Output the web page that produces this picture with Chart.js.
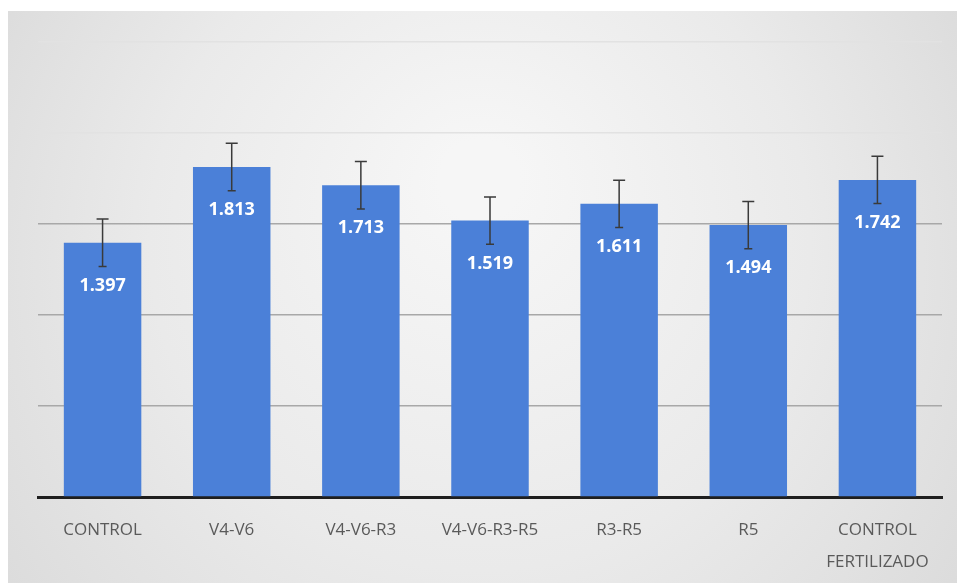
<!DOCTYPE html>
<html>
<head>
<meta charset="utf-8">
<script src="https://cdn.jsdelivr.net/npm/chart.js@4.4.1/dist/chart.umd.min.js"></script>
<style>
  html, body { margin: 0; padding: 0; background: #fff; }
  #wrap { width: 957px; height: 583px; position: relative; }
</style>
</head>
<body>
<div id="wrap"><canvas id="chart" width="957" height="583"></canvas></div>
<script>
// data
const categories = ['CONTROL', 'V4-V6', 'V4-V6-R3', 'V4-V6-R3-R5', 'R3-R5', 'R5', ['CONTROL', 'FERTILIZADO']];
const values = [1.397, 1.813, 1.713, 1.519, 1.611, 1.494, 1.742];
const errors = [0.13, 0.13, 0.13, 0.13, 0.13, 0.13, 0.13];
const yTicks = [0, 0.5, 1.0, 1.5, 2.0, 2.5];

// photo-like grey backdrop
const backdrop = {
    id: 'backdrop',
    beforeDraw(chart) {
        const ctx = chart.ctx;
        ctx.save();
        ctx.fillStyle = '#ffffff';
        ctx.fillRect(0, 0, chart.width, chart.height);
        const g = ctx.createRadialGradient(480, 180, 40, 480, 300, 620);
        g.addColorStop(0, '#f6f6f6');
        g.addColorStop(0.5, '#eaeaea');
        g.addColorStop(1, '#d8d8d8');
        ctx.fillStyle = g;
        ctx.fillRect(8, 11, chart.width - 8, chart.height - 11);
        ctx.restore();
    }
};

// error bars + value labels inside the bars
const extras = {
    id: 'extras',
    afterDatasetsDraw(chart) {
        const ctx = chart.ctx;
        const y = chart.scales.y;
        const meta = chart.getDatasetMeta(0);
        ctx.save();
        meta.data.forEach((bar, i) => {
            const top = y.getPixelForValue(values[i] + errors[i]);
            const bot = y.getPixelForValue(values[i] - errors[i]);
            ctx.strokeStyle = '#3a3a3a';
            ctx.lineWidth = 1.5;
            ctx.beginPath();
            ctx.moveTo(bar.x, top); ctx.lineTo(bar.x, bot);
            ctx.moveTo(bar.x - 6, top); ctx.lineTo(bar.x + 6, top);
            ctx.moveTo(bar.x - 4, bot); ctx.lineTo(bar.x + 4, bot);
            ctx.stroke();

            ctx.fillStyle = '#ffffff';
            ctx.font = 'bold 18px "Open Sans", "Liberation Sans", sans-serif';
            ctx.textAlign = 'center';
            ctx.textBaseline = 'middle';
            ctx.fillText(values[i].toFixed(3), bar.x, bar.y + 43);
        });
        ctx.restore();
    }
};

new Chart(document.getElementById('chart'), {
    type: 'bar',
    data: {
        labels: categories,
        datasets: [{
            data: values,
            backgroundColor: '#4b80d8',
            borderWidth: 0,
            categoryPercentage: 1.0,
            barPercentage: 0.6
        }]
    },
    options: {
        responsive: false,
        animation: false,
        devicePixelRatio: 1,
        layout: { padding: { left: 38, right: 15, top: 42, bottom: 4 } },
        plugins: { legend: { display: false }, tooltip: { enabled: false } },
        scales: {
            x: {
                grid: { display: false, drawTicks: false },
                border: { display: true, color: '#1e1e1e', width: 3 },
                afterFit(scale) { scale.height = 82; },
                ticks: {
                    color: '#5a5a5a',
                    padding: 17,
                    maxRotation: 0,
                    autoSkip: false,
                    font: { family: '"Open Sans", "Liberation Sans", sans-serif', size: 17, lineHeight: 1.9 }
                }
            },
            y: {
                min: 0,
                max: 2.5,
                afterBuildTicks(scale) { scale.ticks = yTicks.map(v => ({ value: v })); },
                ticks: { display: false },
                border: { display: false },
                grid: {
                    drawTicks: false,
                    lineWidth: 1.5,
                    color: ctx => (ctx.tick && ctx.tick.value >= 2.0) ? '#e2e2e2' : '#a8a8a8'
                }
            }
        }
    },
    plugins: [backdrop, extras]
});
</script>
</body>
</html>
